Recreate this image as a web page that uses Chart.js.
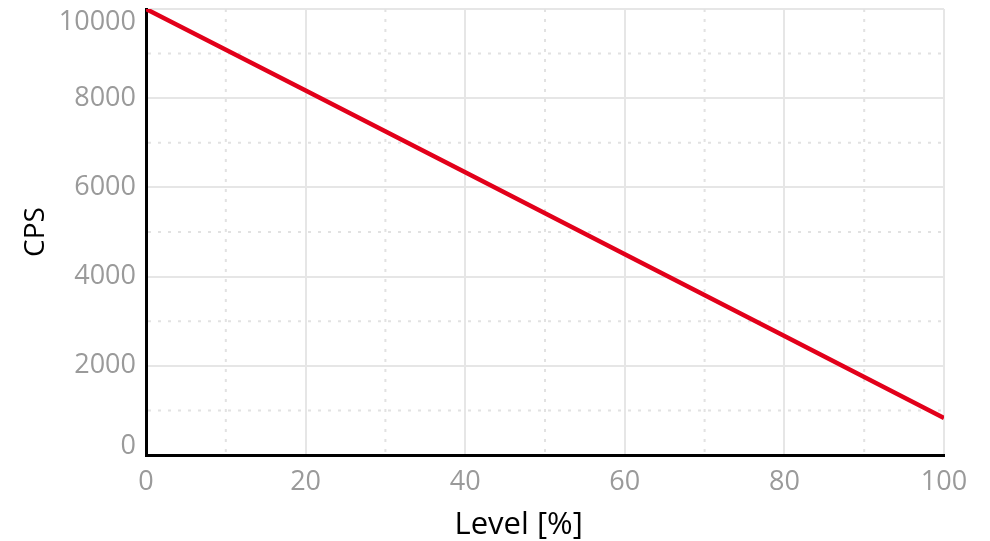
<!DOCTYPE html>
<html lang="en">
<head>
    <meta charset="UTF-8">
    <script src="https://cdn.jsdelivr.net/npm/chart.js"></script>
    <title>CPS vs Level</title>
    <style>
        body { margin: 0; background: #fff; }
        #grafico { display: block; }
    </style>
</head>
<body>
    <canvas id="grafico" width="990" height="541"></canvas>
<script>
// dados do grafico
const niveis = [0, 20, 40, 60, 80, 100];
const cps = [10000, 8170, 6340, 4500, 2670, 830];

const xTicks = [0, 20, 40, 60, 80, 100];
const yTicks = [0, 2000, 4000, 6000, 8000, 10000];
const xMinor = [10, 30, 50, 70, 90];
const yMinor = [1000, 3000, 5000, 7000, 9000];

const tituloX = 'Level [%]';
const tituloY = 'CPS';

const corTick = '#9a9a9a';
const fonte = 'Open Sans';

// linhas pontilhadas (grade secundaria)
const gradeMenor = {
    id: 'gradeMenor',
    beforeDatasetsDraw(chart) {
        const ctx = chart.ctx;
        const area = chart.chartArea;
        const x = chart.scales.x, y = chart.scales.y;
        ctx.save();
        ctx.strokeStyle = '#e2e2e2';
        ctx.lineWidth = 2;
        ctx.setLineDash([3, 7]);
        yMinor.forEach(v => {
            const py = y.getPixelForValue(v);
            ctx.beginPath();
            ctx.moveTo(area.left + 2, py);
            ctx.lineTo(area.right, py);
            ctx.stroke();
        });
        xMinor.forEach(v => {
            const px = x.getPixelForValue(v);
            ctx.beginPath();
            ctx.moveTo(px, area.top);
            ctx.lineTo(px, area.bottom - 2);
            ctx.stroke();
        });
        ctx.restore();
    }
};

// rotulos das pontas do eixo y ficam dentro da area + titulo do eixo x
const rotulosExtras = {
    id: 'rotulosExtras',
    afterDraw(chart) {
        const ctx = chart.ctx;
        const y = chart.scales.y;
        const x = chart.scales.x;
        ctx.save();
        ctx.font = '27px "' + fonte + '"';
        ctx.fillStyle = corTick;
        ctx.textAlign = 'right';
        ctx.textBaseline = 'middle';
        const topo = yTicks[yTicks.length - 1];
        const base = yTicks[0];
        ctx.fillText(String(topo), y.right - 10, y.getPixelForValue(topo) + 13);
        ctx.fillText(String(base), y.right - 10, y.getPixelForValue(base) - 9);

        // titulo do eixo x, um pouco a esquerda do centro como no original
        ctx.font = '31px "' + fonte + '"';
        ctx.fillStyle = '#000';
        ctx.textAlign = 'center';
        ctx.fillText(tituloX, x.left + x.width * 0.467, x.bottom - 16);
        ctx.restore();
    }
};

const dados = {
    datasets: [{
        label: tituloY,
        data: niveis.map((n, i) => ({ x: n, y: cps[i] })),
        borderColor: '#e2001a',
        borderWidth: 4.5,
        pointRadius: 0,
        fill: false,
        tension: 0
    }]
};

const config = {
    type: 'line',
    data: dados,
    plugins: [gradeMenor, rotulosExtras],
    options: {
        responsive: false,
        animation: false,
        devicePixelRatio: 1,
        layout: { padding: { top: 9, right: 46, left: 0, bottom: 0 } },
        plugins: {
            legend: { display: false },
            tooltip: { enabled: false }
        },
        scales: {
            x: {
                type: 'linear',
                min: 0,
                max: 100,
                afterBuildTicks: s => { s.ticks = xTicks.map(v => ({ value: v })); },
                ticks: { color: corTick, font: { family: fonte, size: 27 }, padding: 11, maxRotation: 0 },
                grid: { color: '#e6e6e6', lineWidth: 2, drawTicks: false },
                border: { color: '#000', width: 3 },
                title: { display: false },
                afterFit: s => { s.height = 86; }
            },
            y: {
                min: 0,
                max: 10000,
                afterBuildTicks: s => { s.ticks = yTicks.map(v => ({ value: v })); },
                ticks: {
                    color: corTick,
                    font: { family: fonte, size: 27 },
                    padding: 10,
                    callback: v => (v === yTicks[0] || v === yTicks[yTicks.length - 1]) ? '' : String(v)
                },
                grid: { color: '#e6e6e6', lineWidth: 2, drawTicks: false },
                border: { color: '#000', width: 3 },
                title: { display: true, text: tituloY, color: '#000', font: { family: fonte, size: 28 }, padding: { top: 19, bottom: 0 } },
                afterFit: s => { s.width = 146; s.paddingTop = 0; s.paddingBottom = 0; }
            }
        }
    }
};

let grafico = new Chart(document.getElementById('grafico'), config);
</script>
</body>
</html>
